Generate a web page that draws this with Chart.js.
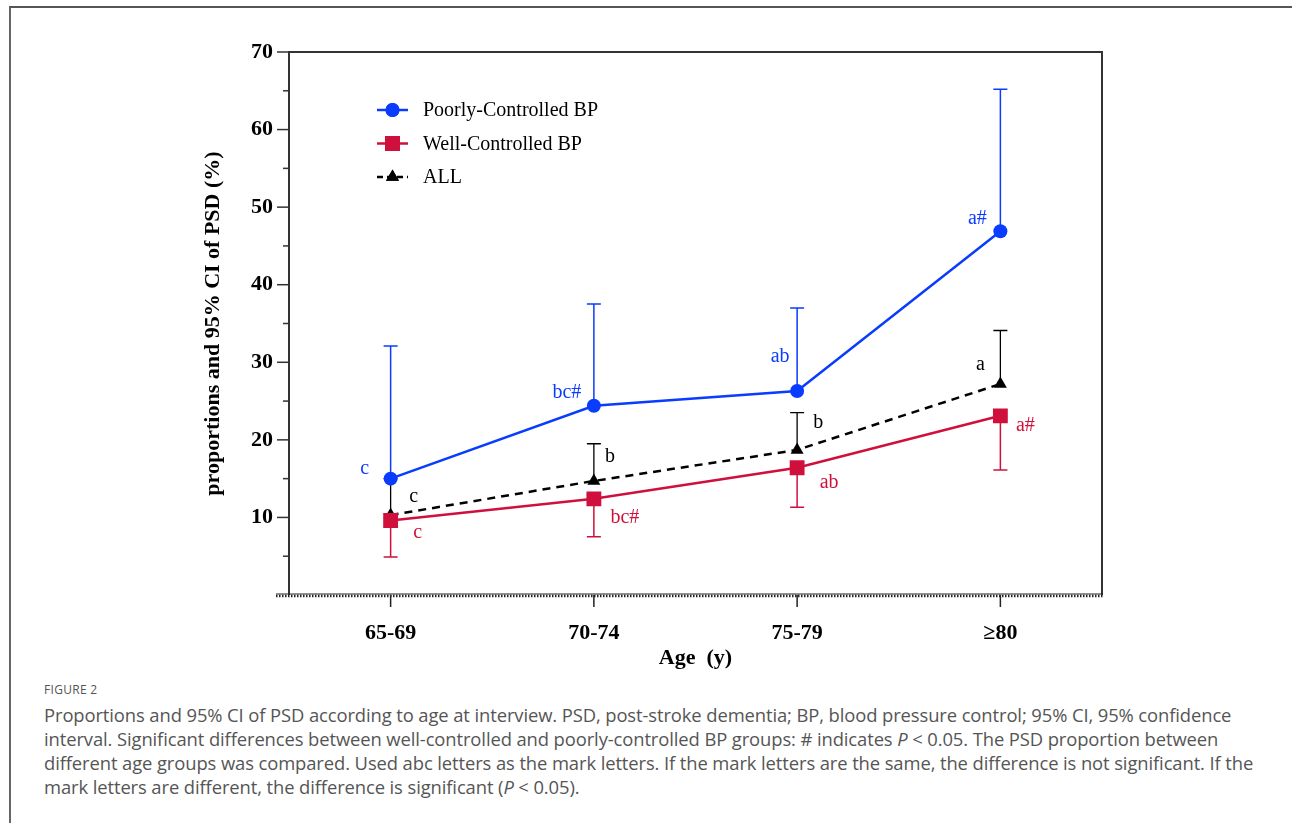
<!DOCTYPE html>
<html>
<head>
<meta charset="utf-8">
<script src="https://cdn.jsdelivr.net/npm/chart.js@4.4.1/dist/chart.umd.min.js"></script>
<style>
  body { margin: 0; background: #fff; width: 1292px; height: 823px; overflow: hidden; position: relative; }
  #frame { position: absolute; left: 9px; top: 6px; right: -4px; bottom: -4px; border-left: 2px solid #666; border-top: 2px solid #555; }
  #wrap { position: absolute; left: 0; top: 0; width: 1292px; height: 680px; }
  #caption { position: absolute; left: 44px; top: 681px; font-family: "Open Sans", sans-serif; color: #555; white-space: nowrap; }
  #caption .fig { font-size: 12px; letter-spacing: 0.3px; margin-bottom: 5px; }
  #caption .txt { font-size: 18.4px; line-height: 24px; letter-spacing: -0.1px; }
</style>
</head>
<body>
<div id="frame"></div>
<div id="wrap"><canvas id="psdChart"></canvas></div>
<div id="caption">
  <div class="fig">FIGURE 2</div>
  <div class="txt">Proportions and 95% CI of PSD according to age at interview. PSD, post-stroke dementia; BP, blood pressure control; 95% CI, 95% confidence<br>interval. Significant differences between well-controlled and poorly-controlled BP groups: # indicates <i>P</i> &lt; 0.05. The PSD proportion between<br>different age groups was compared. Used abc letters as the mark letters. If the mark letters are the same, the difference is not significant. If the<br>mark letters are different, the difference is significant (<i>P</i> &lt; 0.05).</div>
</div>
<script>
const ageGroups = ['65-69', '70-74', '75-79', '\u226580'];
const yTicks = [10, 20, 30, 40, 50, 60, 70];

const poorly = [15.0, 24.4, 26.3, 46.9];
const poorlyUpper = [32.1, 37.5, 37.0, 65.2];
const poorlyMarks = ['c', 'bc#', 'ab', 'a#'];

const well = [9.6, 12.4, 16.4, 23.1];
const wellLower = [4.9, 7.5, 11.3, 16.1];
const wellMarks = ['c', 'bc#', 'ab', 'a#'];

const all = [10.3, 14.7, 18.7, 27.2];
const allUpper = [15.0, 19.5, 23.5, 34.1];
const allMarks = ['c', 'b', 'b', 'a'];

const BLUE = '#0a3cff';
const RED = '#d0103c';
const BLACK = '#000';

// letter offsets from each point (px)
const poorlyOff = [[-26, -10], [-27, -13], [-17, -34], [-23, -12]];
const wellOff = [[27, 12], [31, 19], [32, 15], [25, 10]];
const allOff = [[23, -18], [16, -24], [21, -27], [-20, -19]];

const serif = '"Liberation Serif", "Times New Roman", serif';

const extras = {
  id: 'extras',
  beforeDatasetsDraw(chart) {
    const ctx = chart.ctx, x = chart.scales.x, y = chart.scales.y;
    const bars = [
      [all, allUpper, BLACK, 1.3],
      [well, wellLower, RED, 1.5],
      [poorly, poorlyUpper, BLUE, 1.5]
    ];
    ctx.save();
    bars.forEach(([vals, ends, col, w]) => {
      ctx.strokeStyle = col;
      ctx.lineWidth = w;
      vals.forEach((v, i) => {
        const px = x.getPixelForValue(i);
        const y0 = y.getPixelForValue(v), y1 = y.getPixelForValue(ends[i]);
        ctx.beginPath();
        ctx.moveTo(px, y0); ctx.lineTo(px, y1);
        ctx.moveTo(px - 7, y1); ctx.lineTo(px + 7, y1);
        ctx.stroke();
      });
    });
    ctx.restore();
  },
  afterDraw(chart) {
    const ctx = chart.ctx, x = chart.scales.x, y = chart.scales.y;
    const a = chart.chartArea;
    ctx.save();
    // frame top / right
    ctx.strokeStyle = '#333';
    ctx.lineWidth = 2;
    ctx.beginPath();
    ctx.moveTo(a.left, a.top); ctx.lineTo(a.right, a.top); ctx.lineTo(a.right, a.bottom);
    ctx.stroke();
    // y axis
    ctx.beginPath();
    ctx.moveTo(a.left, a.top - 1); ctx.lineTo(a.left, a.bottom);
    ctx.stroke();
    ctx.lineWidth = 1.5;
    for (let v = 5; v <= 70; v += 5) {
      const py = y.getPixelForValue(v);
      const len = v % 10 === 0 ? 12 : 6;
      ctx.beginPath();
      ctx.moveTo(a.left - len, py); ctx.lineTo(a.left, py);
      ctx.stroke();
    }
    // x axis (dotted)
    ctx.strokeStyle = '#222';
    ctx.lineWidth = 1;
    ctx.beginPath();
    ctx.moveTo(a.left - 13, a.bottom - 1); ctx.lineTo(a.right + 1, a.bottom - 1);
    ctx.stroke();
    ctx.setLineDash([1.5, 1.5]);
    ctx.lineWidth = 2.5;
    ctx.beginPath();
    ctx.moveTo(a.left - 13, a.bottom + 1); ctx.lineTo(a.right + 1, a.bottom + 1);
    ctx.stroke();
    ctx.setLineDash([]);
    ctx.lineWidth = 1.5;
    ageGroups.forEach((g, i) => {
      const px = x.getPixelForValue(i);
      ctx.beginPath();
      ctx.moveTo(px, a.bottom); ctx.lineTo(px, a.bottom + 12);
      ctx.stroke();
    });
    // tick labels
    ctx.fillStyle = '#000';
    ctx.font = 'bold 22px ' + serif;
    ctx.textAlign = 'right';
    ctx.textBaseline = 'middle';
    yTicks.forEach(v => ctx.fillText(String(v), a.left - 16, y.getPixelForValue(v)));
    ctx.textAlign = 'center';
    ageGroups.forEach((g, i) => ctx.fillText(g, x.getPixelForValue(i), a.bottom + 38));
    ctx.fillText('Age  (y)', (a.left + a.right) / 2, a.bottom + 63);
    ctx.save();
    ctx.translate(213, (a.top + a.bottom) / 2);
    ctx.rotate(-Math.PI / 2);
    ctx.font = 'bold 22px ' + serif;
    ctx.fillText('proportions and 95% CI of PSD (%)', 0, 0);
    ctx.restore();
    // mark letters
    ctx.font = '20px ' + serif;
    [[poorly, poorlyMarks, poorlyOff, BLUE], [all, allMarks, allOff, BLACK], [well, wellMarks, wellOff, RED]]
      .forEach(([vals, marks, off, col]) => {
        ctx.fillStyle = col;
        vals.forEach((v, i) => {
          ctx.fillText(marks[i], x.getPixelForValue(i) + off[i][0], y.getPixelForValue(v) + off[i][1]);
        });
      });
    // legend
    const leg = [
      ['Poorly-Controlled BP', BLUE, 'circle', [], 7],
      ['Well-Controlled BP', RED, 'rect', [], 10.5],
      ['ALL', BLACK, 'triangle', [6, 4], 7.5]
    ];
    ctx.textAlign = 'left';
    ctx.font = '20px ' + serif;
    leg.forEach(([t, col, shape, dash, r], k) => {
      const ly = 110 + k * 33.5;
      ctx.strokeStyle = col;
      ctx.fillStyle = col;
      ctx.lineWidth = 2.5;
      ctx.setLineDash(dash);
      ctx.beginPath();
      ctx.moveTo(377, ly); ctx.lineTo(408, ly);
      ctx.stroke();
      ctx.setLineDash([]);
      Chart.helpers.drawPoint(ctx, { pointStyle: shape, radius: r, borderWidth: 0 }, 392.5, ly);
      ctx.fill();
      ctx.fillStyle = '#000';
      ctx.fillText(t, 423, ly + 1);
    });
    ctx.restore();
  }
};

new Chart(document.getElementById('psdChart').getContext('2d'), {
  type: 'line',
  data: {
    labels: ageGroups,
    datasets: [
      {
        label: 'ALL',
        data: all,
        borderColor: BLACK,
        backgroundColor: BLACK,
        borderWidth: 2.5,
        borderDash: [8, 6],
        pointStyle: 'triangle',
        pointRadius: 7.5,
        pointBorderWidth: 0,
        order: 3
      },
      {
        label: 'Well-Controlled BP',
        data: well,
        borderColor: RED,
        backgroundColor: RED,
        borderWidth: 2.5,
        pointStyle: 'rect',
        pointRadius: 10.5,
        pointBorderWidth: 0,
        order: 2
      },
      {
        label: 'Poorly-Controlled BP',
        data: poorly,
        borderColor: BLUE,
        backgroundColor: BLUE,
        borderWidth: 2.5,
        pointStyle: 'circle',
        pointRadius: 7,
        pointBorderWidth: 0,
        order: 1
      }
    ]
  },
  options: {
    responsive: true,
    maintainAspectRatio: false,
    animation: false,
    layout: { padding: { left: 289, right: 190, top: 52, bottom: 85 } },
    plugins: { legend: { display: false }, tooltip: { enabled: false } },
    scales: {
      x: { type: 'category', offset: true, display: false },
      y: { min: 0, max: 70, display: false }
    }
  },
  plugins: [extras]
});
</script>
</body>
</html>
